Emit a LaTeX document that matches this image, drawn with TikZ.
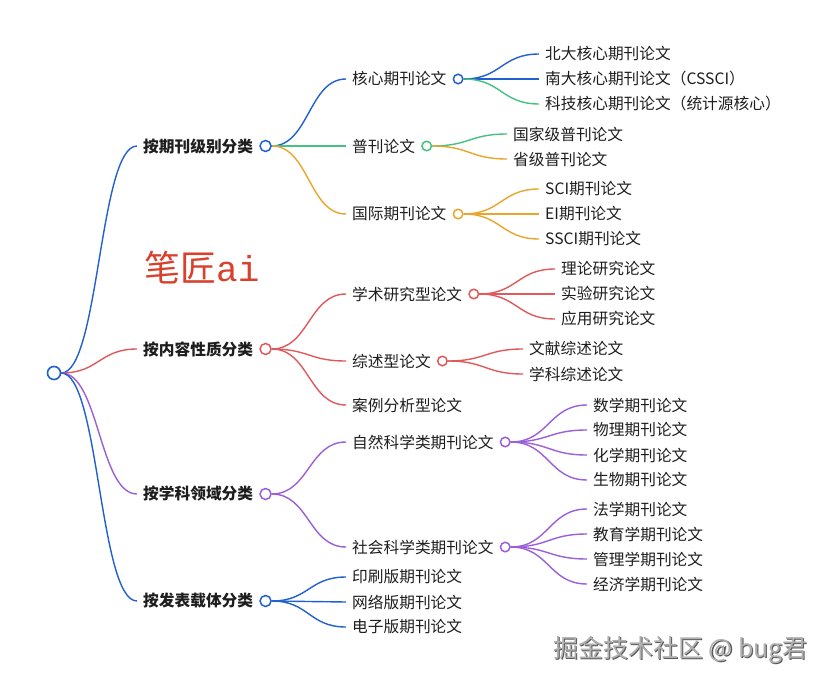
\documentclass[tikz,border=0pt]{standalone}
\usepackage{fontspec}
\setmainfont{Noto Sans CJK SC}
\newfontfamily\monofnt{Liberation Mono}
\usetikzlibrary{calc}
\definecolor{mblue}{HTML}{2060D0}
\definecolor{mred}{HTML}{E05A5C}
\definecolor{mgreen}{HTML}{45C183}
\definecolor{morange}{HTML}{EBA52C}
\definecolor{mpurple}{HTML}{9B60D8}
\definecolor{txt}{HTML}{1E1E1E}
\definecolor{wmred}{HTML}{D8412E}
\definecolor{wmgray}{HTML}{B0B0B0}
\definecolor{wmdark}{HTML}{5A5A5A}
\pgfdeclarelayer{bg}
\pgfsetlayers{bg,main}
\tikzset{
  lbl/.style={inner xsep=6pt, inner ysep=2pt, anchor=west, text=txt, font=\fontsize{15.7}{18}\selectfont},
  toplbl/.style={lbl, font=\fontsize{15.7}{18}\selectfont\bfseries},
  dotbase/.style={circle, draw, fill=white, line width=1.5pt, inner sep=0pt, anchor=west},
  dotA/.style={dotbase, minimum size=11pt},
  dotB/.style={dotbase, minimum size=9.5pt},
  rootdot/.style={circle, draw=mblue, fill=white, line width=1.6pt, inner sep=0pt, minimum size=13pt},
  link/.style={line width=1.4pt}
}
\newcommand\lnk[3]{\draw[link,#1] let \p1=(#2.east), \p2=(#3.west) in (\p1) .. controls ({(\x1+\x2)/2},\y1) and ({(\x1+\x2)/2},\y2) .. (\p2);}
\begin{document}
\begin{tikzpicture}[x=1pt,y=-1pt]
\useasboundingbox (0,0) rectangle (830,685);

% root
\node[rootdot] (root) at (54,373) {};

% level 1
\node[toplbl] (a) at (137,146) {按期刊级别分类};
\node[dotA, draw=mblue] (ca) at (a.east) {};
\node[toplbl] (b) at (137,349) {按内容性质分类};
\node[dotA, draw=mred] (cb) at (b.east) {};
\node[toplbl] (c) at (137,494) {按学科领域分类};
\node[dotA, draw=mpurple] (cc) at (c.east) {};
\node[toplbl] (d) at (137,601) {按发表载体分类};
\node[dotA, draw=mblue] (cd) at (d.east) {};

% level 2 under a
\node[lbl] (a1) at (346,79) {核心期刊论文};
\node[dotB, draw=mblue] (ca1) at (a1.east) {};
\node[lbl] (a2) at (346,146) {普刊论文};
\node[dotB, draw=mgreen] (ca2) at (a2.east) {};
\node[lbl] (a3) at (346,214) {国际期刊论文};
\node[dotB, draw=morange] (ca3) at (a3.east) {};

% level 3 under a1
\node[lbl] (a11) at (539,54) {北大核心期刊论文};
\node[lbl] (a12) at (539,79) {南大核心期刊论文（CSSCI）};
\node[lbl] (a13) at (539,104) {科技核心期刊论文（统计源核心）};
% under a2
\node[lbl] (a21) at (507,134) {国家级普刊论文};
\node[lbl] (a22) at (507,159) {省级普刊论文};
% under a3
\node[lbl] (a31) at (539,189) {SCI期刊论文};
\node[lbl] (a32) at (539,214) {EI期刊论文};
\node[lbl] (a33) at (539,239) {SSCI期刊论文};

% level 2 under b
\node[lbl] (b1) at (346,294) {学术研究型论文};
\node[dotB, draw=mred] (cb1) at (b1.east) {};
\node[lbl] (b2) at (346,361) {综述型论文};
\node[dotB, draw=mred] (cb2) at (b2.east) {};
\node[lbl] (b3) at (346,405) {案例分析型论文};
\node[lbl] (b11) at (555,269) {理论研究论文};
\node[lbl] (b12) at (555,294) {实验研究论文};
\node[lbl] (b13) at (555,319) {应用研究论文};
\node[lbl] (b21) at (523,349) {文献综述论文};
\node[lbl] (b22) at (523,374) {学科综述论文};

% level 2 under c
\node[lbl] (c1) at (346,442) {自然科学类期刊论文};
\node[dotB, draw=mpurple] (cc1) at (c1.east) {};
\node[lbl] (c2) at (346,547) {社会科学类期刊论文};
\node[dotB, draw=mpurple] (cc2) at (c2.east) {};
\node[lbl] (c11) at (587,405) {数学期刊论文};
\node[lbl] (c12) at (587,430) {物理期刊论文};
\node[lbl] (c13) at (587,455) {化学期刊论文};
\node[lbl] (c14) at (587,480) {生物期刊论文};
\node[lbl] (c21) at (587,509) {法学期刊论文};
\node[lbl] (c22) at (587,534) {教育学期刊论文};
\node[lbl] (c23) at (587,559) {管理学期刊论文};
\node[lbl] (c24) at (587,584) {经济学期刊论文};

% level 2 under d
\node[lbl] (d1) at (346,577) {印刷版期刊论文};
\node[lbl] (d2) at (346,602) {网络版期刊论文};
\node[lbl] (d3) at (346,627) {电子版期刊论文};

% watermarks
\node[anchor=west, inner sep=0pt, text=wmred] (wm1) at (144,268)
  {\fontsize{36}{40}\selectfont 笔匠\monofnt ai};
\node[anchor=west, inner sep=0pt, text=wmdark] (wm2s) at (554.2,651.2)
  {\fontsize{25}{28}\selectfont 掘金技术社区 @ bug君};
\node[anchor=west, inner sep=0pt, text=wmgray] (wm2) at (553,650)
  {\fontsize{25}{28}\selectfont 掘金技术社区 @ bug君};

\begin{pgfonlayer}{bg}
\fill[white] (0,0) rectangle (830,685);
\lnk{mblue}{root}{a}
\lnk{mred}{root}{b}
\lnk{mpurple}{root}{c}
\lnk{mblue}{root}{d}
\lnk{mblue}{ca}{a1}
\lnk{mgreen}{ca}{a2}
\lnk{morange}{ca}{a3}
\lnk{mblue}{ca1}{a11}
\lnk{mblue}{ca1}{a12}
\lnk{mgreen}{ca1}{a13}
\lnk{mgreen}{ca2}{a21}
\lnk{morange}{ca2}{a22}
\lnk{morange}{ca3}{a31}
\lnk{morange}{ca3}{a32}
\lnk{morange}{ca3}{a33}
\lnk{mred}{cb}{b1}
\lnk{mred}{cb}{b2}
\lnk{mred}{cb}{b3}
\lnk{mred}{cb1}{b11}
\lnk{mred}{cb1}{b12}
\lnk{mred}{cb1}{b13}
\lnk{mred}{cb2}{b21}
\lnk{mred}{cb2}{b22}
\lnk{mpurple}{cc}{c1}
\lnk{mpurple}{cc}{c2}
\lnk{mpurple}{cc1}{c11}
\lnk{mpurple}{cc1}{c12}
\lnk{mpurple}{cc1}{c13}
\lnk{mpurple}{cc1}{c14}
\lnk{mpurple}{cc2}{c21}
\lnk{mpurple}{cc2}{c22}
\lnk{mpurple}{cc2}{c23}
\lnk{mpurple}{cc2}{c24}
\lnk{mblue}{cd}{d1}
\lnk{mblue}{cd}{d2}
\lnk{mblue}{cd}{d3}
\end{pgfonlayer}
\end{tikzpicture}
\end{document}
